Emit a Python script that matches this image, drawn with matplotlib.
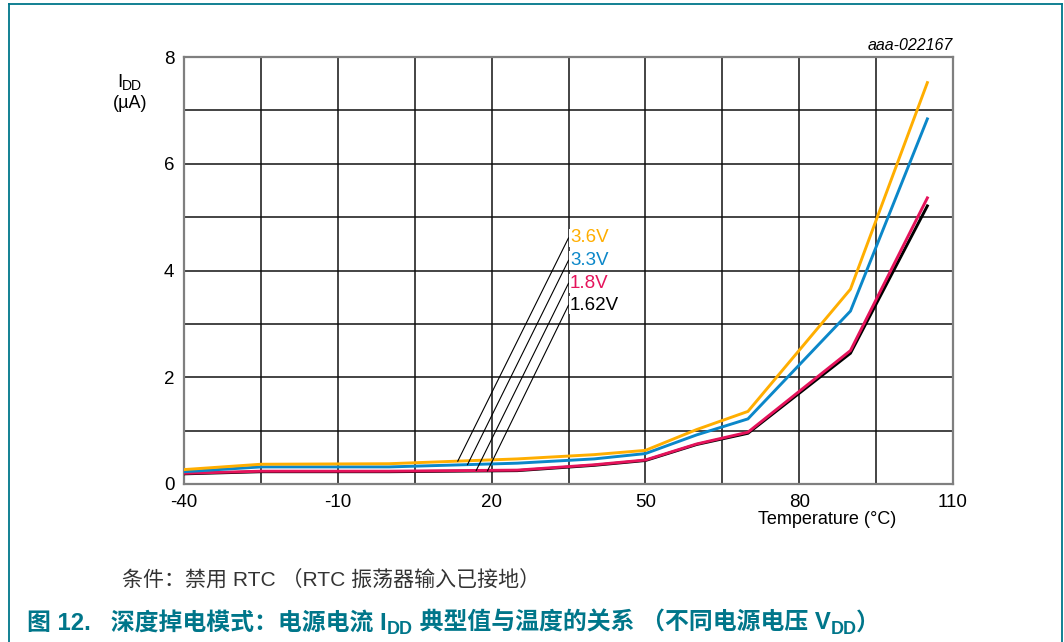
import numpy as np
import matplotlib
matplotlib.use("Agg")
import matplotlib.pyplot as plt
from matplotlib.lines import Line2D

# Supply current vs temperature, one series per supply voltage
temps = [-40, -25, 0, 25, 40, 50, 60, 70, 90, 105]
idd_3v6 = [0.27, 0.37, 0.38, 0.47, 0.55, 0.63, 1.02, 1.36, 3.65, 7.52]
idd_3v3 = [0.23, 0.32, 0.32, 0.39, 0.47, 0.57, 0.92, 1.22, 3.24, 6.84]
idd_1v8 = [0.20, 0.24, 0.24, 0.26, 0.36, 0.45, 0.75, 0.97, 2.50, 5.36]
idd_1v62 = [0.19, 0.23, 0.23, 0.25, 0.35, 0.44, 0.74, 0.95, 2.45, 5.21]

series_labels = ["3.6V", "3.3V", "1.8V", "1.62V"]
series_values = [idd_3v6, idd_3v3, idd_1v8, idd_1v62]
series_colors = ["#FFAE00", "#0B87C9", "#E5135B", "#000000"]
# label positions (temperature, current) and where their leader lines meet the curves
label_x = 35.0
label_y = [4.61, 4.19, 3.76, 3.35]
leader_t = [13.4, 15.3, 17.0, 19.2]

x_ticks = [-40, -10, 20, 50, 80, 110]
y_ticks = [0, 2, 4, 6, 8]

LATIN_CJK = ["Liberation Sans", "Noto Sans CJK SC", "DejaVu Sans"]
TEAL = "#00768A"

W, H = 1064, 642
fig = plt.figure(figsize=(W / 100, H / 100), dpi=100)
fig.patch.set_facecolor("white")

ax = fig.add_axes([184 / W, 1 - 484 / H, (953 - 184) / W, (484 - 57) / H])
ax.set_xlim(-40, 110)
ax.set_ylim(0, 8)
grid_x = np.arange(-40, 111, 15)
grid_y = np.arange(0, 8.1, 1)
ax.set_xticks(grid_x)
ax.set_yticks(grid_y)
ax.grid(True, color="#111111", lw=1.1)
ax.set_axisbelow(True)
ax.tick_params(length=0, labelsize=13.5, pad=7)
ax.set_xticklabels([str(int(v)) if v in x_ticks else "" for v in grid_x],
                   family="Liberation Sans")
ax.set_yticklabels([str(int(v)) if v in y_ticks else "" for v in grid_y],
                   family="Liberation Sans")
for s in ax.spines.values():
    s.set_color("#7f7f7f")
    s.set_linewidth(1.6)

# curves: drawn back to front so the lower-voltage pair overlaps correctly
for vals, col in reversed(list(zip(series_values, series_colors))):
    ax.plot(temps, vals, color=col, lw=2.1, solid_joinstyle="miter", zorder=3)

# callout labels with leader lines
for lab, vals, col, ly, lt in zip(series_labels, series_values, series_colors, label_y, leader_t):
    ax.plot([lt, label_x], [np.interp(lt, temps, vals), ly], color="black", lw=0.8, zorder=4)
    ax.text(label_x + 0.3, ly, lab, color=col, fontsize=13.5, family="Liberation Sans",
            ha="left", va="center", zorder=5,
            bbox=dict(facecolor="white", edgecolor="none", pad=0.6))

ax.text((827 - 184) / 769, (484 - 520) / 427, "Temperature (°C)", transform=ax.transAxes,
        ha="center", va="center", fontsize=13, family="Liberation Sans")
ax.text(1.0, (484 - 45) / 427, "aaa-022167", transform=ax.transAxes, ha="right",
        va="center", fontsize=11.5, style="italic", family="Liberation Sans")

renderer = fig.canvas.get_renderer()


def text_runs(x_px, y_px, runs, **common):
    """Lay out consecutive text pieces along a baseline given in pixels (from top)."""
    x = x_px
    for txt, size, dy in runs:
        t = fig.text(x / W, 1 - (y_px + dy) / H, txt, fontsize=size, ha="left",
                     va="baseline", **common)
        bb = t.get_window_extent(renderer=renderer)
        x += bb.width
    return x


# y-axis title: I_DD (µA)
text_runs(117, 87, [("I", 13.5, 0), ("DD", 10, 3)], family="Liberation Sans", color="black")
fig.text(130 / W, 1 - 104 / H, "(µA)", fontsize=13, ha="center", va="center",
         family="Liberation Sans")

# caption lines
text_runs(122, 587, [("条件：禁用 RTC （RTC 振荡器输入已接地）", 15.1, 0)],
          family=LATIN_CJK, color="#333333")
text_runs(27, 630,
          [("图 12.   深度掉电模式：电源电流 I", 17.2, 0), ("DD", 13, 4),
           (" 典型值与温度的关系 （不同电源电压 V", 17.2, 0), ("DD", 13, 4), ("）", 17.2, 0)],
          family=LATIN_CJK, color=TEAL, weight="bold")

# frame around the figure (open at the bottom)
for xs, ys in [([9, 9], [H + 5, 4]), ([9, 1062], [4, 4]), ([1062, 1062], [4, H + 5])]:
    fig.add_artist(Line2D([v / W for v in xs], [1 - v / H for v in ys], color=TEAL, lw=1.3))

fig.savefig("out.png", dpi=100)
